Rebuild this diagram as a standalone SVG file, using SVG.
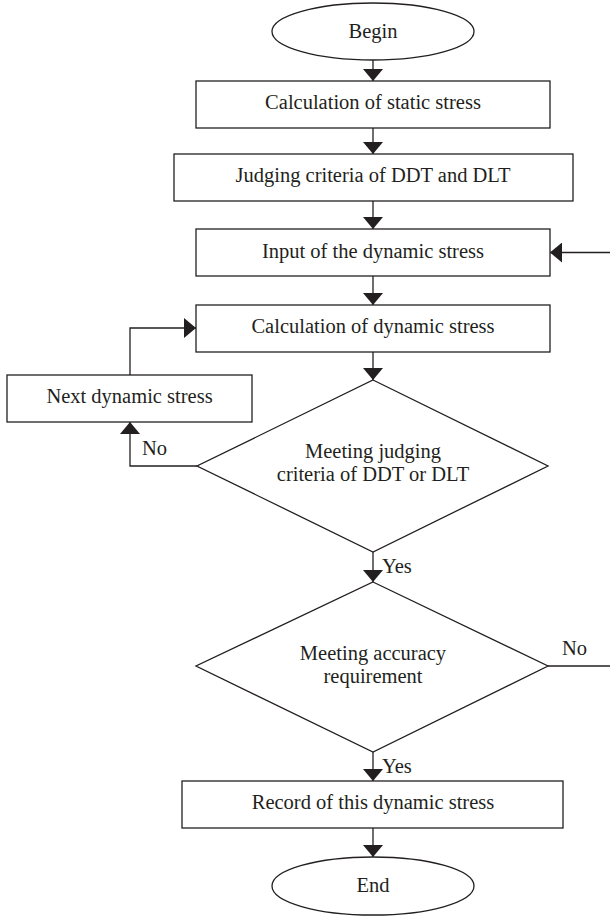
<svg xmlns="http://www.w3.org/2000/svg" width="610" height="917" viewBox="0 0 610 917">
<style>
.shape{fill:#fff;stroke:#231f20;stroke-width:1.3}
.conn{fill:none;stroke:#231f20;stroke-width:1.3}
text{font-family:"Liberation Serif","Times New Roman",serif;font-size:20.5px;fill:#231f20}
.c{text-anchor:middle}
</style>
<defs>
<marker id="arr" viewBox="0 0 12 20" refX="12" refY="10" markerWidth="12" markerHeight="20" markerUnits="userSpaceOnUse" orient="auto">
<path d="M0,0 L12,10 L0,20 Z" fill="#231f20"/>
</marker>
</defs>
<rect width="610" height="917" fill="#fff"/>
<g id="connectors">
<line class="conn" x1="373" y1="60" x2="373" y2="81" marker-end="url(#arr)"/>
<line class="conn" x1="373" y1="128" x2="373" y2="154" marker-end="url(#arr)"/>
<line class="conn" x1="373" y1="201" x2="373" y2="229" marker-end="url(#arr)"/>
<line class="conn" x1="373" y1="276" x2="373" y2="305" marker-end="url(#arr)"/>
<line class="conn" x1="373" y1="352" x2="373" y2="380" marker-end="url(#arr)"/>
<line class="conn" x1="373" y1="552" x2="373" y2="582" marker-end="url(#arr)"/>
<line class="conn" x1="373" y1="752" x2="373" y2="781" marker-end="url(#arr)"/>
<line class="conn" x1="373" y1="828" x2="373" y2="857" marker-end="url(#arr)"/>
<polyline class="conn" points="197,466 130,466 130,422" marker-end="url(#arr)"/>
<polyline class="conn" points="130,375 130,328 196,328" marker-end="url(#arr)"/>
<line class="conn" x1="548" y1="666" x2="610" y2="666"/>
<line class="conn" x1="610" y1="252.5" x2="550" y2="252.5" marker-end="url(#arr)"/>
<text x="382" y="573">Yes</text>
<text x="382" y="773">Yes</text>
<text x="142" y="455">No</text>
<text x="562" y="655">No</text>
</g>
<g id="begin">
<ellipse class="shape" cx="373" cy="31.5" rx="101" ry="28.5"/>
<text class="c" x="373" y="38">Begin</text>
</g>
<g id="static">
<rect class="shape" x="196" y="81" width="354" height="47"/>
<text class="c" x="373" y="109">Calculation of static stress</text>
</g>
<g id="criteria">
<rect class="shape" x="174" y="154" width="399" height="47"/>
<text class="c" x="373" y="182">Judging criteria of DDT and DLT</text>
</g>
<g id="input">
<rect class="shape" x="196" y="229" width="354" height="47"/>
<text class="c" x="373" y="258">Input of the dynamic stress</text>
</g>
<g id="calcdyn">
<rect class="shape" x="196" y="305" width="354" height="47"/>
<text class="c" x="373" y="333">Calculation of dynamic stress</text>
</g>
<g id="next">
<rect class="shape" x="7" y="375" width="245" height="47"/>
<text class="c" x="129.5" y="403">Next dynamic stress</text>
</g>
<g id="decision1">
<polygon class="shape" points="373,380 548,466 373,552 197,466"/>
<text class="c" x="373" y="458">Meeting judging</text>
<text class="c" x="373" y="481">criteria of DDT or DLT</text>
</g>
<g id="decision2">
<polygon class="shape" points="373,582 548,666 373,752 196,666"/>
<text class="c" x="373" y="660">Meeting accuracy</text>
<text class="c" x="373" y="683">requirement</text>
</g>
<g id="record">
<rect class="shape" x="182" y="781" width="381" height="47"/>
<text class="c" x="373" y="809">Record of this dynamic stress</text>
</g>
<g id="end">
<ellipse class="shape" cx="373" cy="886" rx="101" ry="29"/>
<text class="c" x="373" y="892">End</text>
</g>
</svg>
